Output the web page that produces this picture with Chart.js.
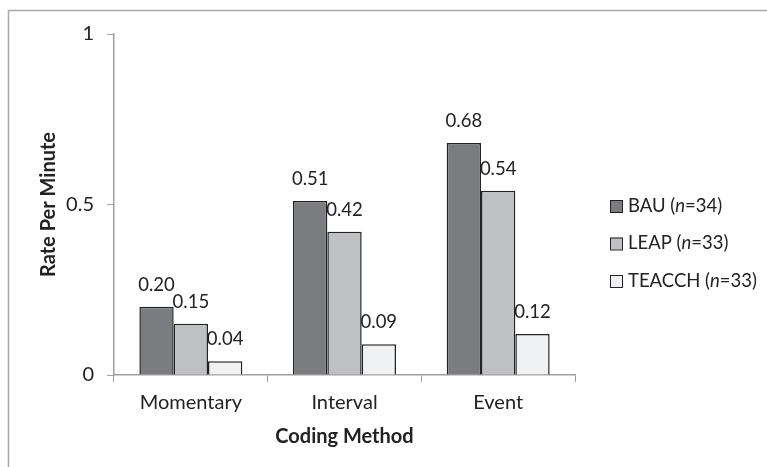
<!DOCTYPE html>
<html>
<head>
<meta charset="utf-8">
<script src="https://cdn.jsdelivr.net/npm/chart.js@4"></script>
<style>
  html, body { margin: 0; padding: 0; background: #fff; }
  #wrap { position: relative; width: 767px; height: 467px; }
</style>
</head>
<body>
<div id="wrap"><canvas id="chart"></canvas></div>
<script>
const categories = ['Momentary', 'Interval', 'Event'];
const groupNames = ['BAU', 'LEAP', 'TEACCH'];
const groupSizes = [34, 33, 33];
const bauValues = [0.20, 0.51, 0.68];
const leapValues = [0.15, 0.42, 0.54];
const teacchValues = [0.04, 0.09, 0.12];
const yTicks = [0, 0.5, 1];

const colors = ['#7b7c80', '#bfc0c3', '#f0f1f2'];
const FONT = 'Lato, "Open Sans", sans-serif';

// frame of the figure (only top and left edges show, the rest is cropped)
const framePlugin = {
  id: 'frame',
  beforeDraw(chart) {
    const ctx = chart.ctx;
    ctx.save();
    ctx.strokeStyle = '#a9a9a9';
    ctx.lineWidth = 1.5;
    ctx.beginPath();
    ctx.moveTo(767, 10.5);
    ctx.lineTo(8.5, 10.5);
    ctx.lineTo(8.5, 467);
    ctx.stroke();
    ctx.restore();
  }
};

// value labels over each bar
const valueLabels = {
  id: 'valueLabels',
  afterDatasetsDraw(chart) {
    const ctx = chart.ctx;
    ctx.save();
    ctx.font = '18.5px ' + FONT;
    ctx.fillStyle = '#222';
    ctx.textAlign = 'center';
    ctx.textBaseline = 'middle';
    chart.data.datasets.forEach((ds, i) => {
      chart.getDatasetMeta(i).data.forEach((bar, j) => {
        ctx.fillText(ds.data[j].toFixed(2), bar.x, bar.y - 22);
      });
    });
    ctx.restore();
  }
};

// legend with italic n
const sideLegend = {
  id: 'sideLegend',
  afterDraw(chart) {
    const ctx = chart.ctx;
    ctx.save();
    ctx.textBaseline = 'middle';
    const x0 = 610, y0 = 206, step = 37.5;
    groupNames.forEach((name, i) => {
      const y = y0 + i * step;
      ctx.fillStyle = colors[i];
      ctx.fillRect(x0, y - 6, 12, 12);
      ctx.strokeStyle = '#222';
      ctx.lineWidth = 1;
      ctx.strokeRect(x0 + 0.5, y - 5.5, 12, 12);
      ctx.fillStyle = '#222';
      let x = x0 + 18;
      const parts = [[name + ' (', ''], ['n', 'italic '], ['=' + groupSizes[i] + ')', '']];
      parts.forEach(([t, style]) => {
        ctx.font = style + '18.5px ' + FONT;
        ctx.fillText(t, x, y);
        x += ctx.measureText(t).width;
      });
    });
    ctx.restore();
  }
};

const values = [bauValues, leapValues, teacchValues];

new Chart(document.getElementById('chart'), {
  type: 'bar',
  data: {
    labels: categories,
    datasets: groupNames.map((name, i) => ({
      label: name,
      data: values[i],
      backgroundColor: colors[i],
      borderColor: '#222',
      borderWidth: 1.5,
      barPercentage: 1,
      categoryPercentage: 0.67
    }))
  },
  options: {
    responsive: true,
    maintainAspectRatio: false,
    animation: false,
    layout: { padding: { left: 0, right: 192, top: 34, bottom: 0 } },
    plugins: {
      legend: { display: false },
      tooltip: { enabled: false }
    },
    scales: {
      x: {
        afterFit(axis) { axis.height = 92; },
        grid: { display: true, drawOnChartArea: false, drawTicks: true, tickLength: 7, color: '#a0a0a0', offset: true },
        border: { color: '#a0a0a0', width: 1.5 },
        ticks: { color: '#222', font: { family: FONT, size: 20 }, padding: 9 },
        title: { display: true, text: 'Coding Method', color: '#222', font: { family: FONT, size: 20, weight: 'bold' }, padding: { top: 0, bottom: 18 } }
      },
      y: {
        min: 0,
        max: 1,
        afterFit(axis) { axis.width = 114; },
        afterBuildTicks(axis) { axis.ticks = yTicks.map(v => ({ value: v })); },
        grid: { display: true, drawOnChartArea: false, drawTicks: true, tickLength: 7, color: '#a0a0a0' },
        border: { color: '#a0a0a0', width: 1.5 },
        ticks: { color: '#222', font: { family: FONT, size: 20 }, padding: 13, callback: v => String(v) },
        title: { display: true, text: 'Rate Per Minute', color: '#222', font: { family: FONT, size: 20, weight: 'bold' }, padding: { top: 37, bottom: 0 } }
      }
    }
  },
  plugins: [framePlugin, valueLabels, sideLegend]
});
</script>
</body>
</html>
